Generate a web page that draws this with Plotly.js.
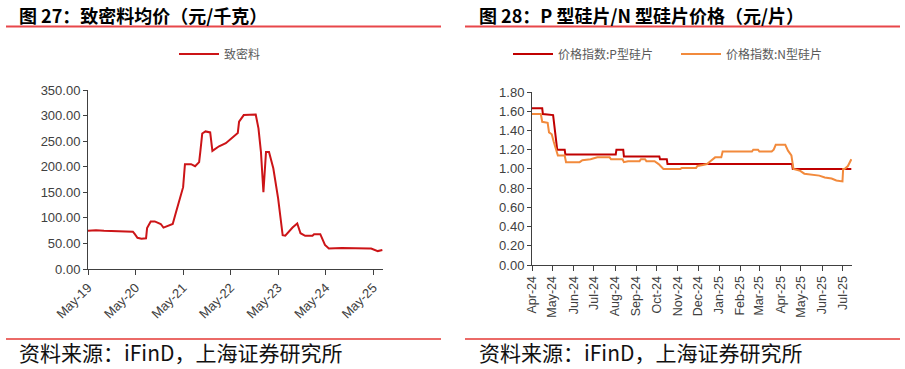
<!DOCTYPE html>
<html>
<head>
<meta charset="utf-8">
<script src="https://cdn.plot.ly/plotly-3.0.1.min.js"></script>
<style>
html,body{margin:0;padding:0;background:#fff;}
#chart{width:905px;height:369px;}
</style>
</head>
<body>
<div id="chart"></div>
<script>
// ---------- Chart 27: 致密料均价（元/千克） ----------
const denseDates = ['2019-05-01','2019-07-01','2019-09-01','2020-01-01','2020-04-10','2020-04-25','2020-05-15','2020-06-15','2020-07-20','2020-07-28','2020-08-25','2020-09-25','2020-10-25','2020-11-10','2020-12-01','2020-12-25','2021-01-25','2021-02-10','2021-03-05','2021-04-05','2021-05-01','2021-05-15','2021-07-01','2021-08-01','2021-09-01','2021-09-10','2021-09-25','2021-10-20','2021-11-25','2021-12-12','2022-01-05','2022-02-01','2022-03-25','2022-05-20','2022-06-25','2022-07-05','2022-08-10','2022-11-10','2022-12-01','2022-12-20','2023-01-08','2023-01-28','2023-02-20','2023-03-25','2023-05-01','2023-06-05','2023-06-25','2023-08-20','2023-09-25','2023-10-20','2023-11-25','2024-01-20','2024-02-01','2024-03-20','2024-04-25','2024-05-25','2024-09-01','2025-04-01','2025-04-15','2025-06-05','2025-07-10'];
const densePrice = [75,76,75,74,73,68,61,59,60,80,93,93,89,88,81,83,87,88,109,138,160,205,205,201,209,229,265,269,267,231,235,240,246,258,266,288,301,302,275,229,150,229,229,197,138,66,65,81,89,70,65,65,68,68,47,40,41,40,40,35,37];
const denseName = '致密料';

// ---------- Chart 28: P型硅片/N型硅片价格（元/片） ----------
const pDates = ['2024-04-01','2024-04-16','2024-04-17','2024-04-30','2024-05-02','2024-05-05','2024-05-08','2024-05-19','2024-05-20','2024-08-02','2024-08-03','2024-08-13','2024-08-14','2024-10-05','2024-10-06','2024-10-16','2024-10-17','2025-04-18','2025-04-19','2025-07-14'];
const pPrice = [1.63,1.63,1.57,1.56,1.56,1.38,1.20,1.20,1.15,1.15,1.20,1.20,1.13,1.13,1.10,1.10,1.05,1.05,1.00,1.00];
const pName = '价格指数:P型硅片';

const nDates = ['2024-04-01','2024-04-14','2024-04-16','2024-04-24','2024-04-26','2024-04-30','2024-05-03','2024-05-06','2024-05-09','2024-05-19','2024-05-21','2024-06-10','2024-06-14','2024-06-26','2024-07-06','2024-07-24','2024-07-26','2024-08-12','2024-08-14','2024-08-20','2024-09-06','2024-09-08','2024-09-14','2024-09-16','2024-09-28','2024-10-04','2024-10-11','2024-11-05','2024-11-07','2024-11-28','2024-11-30','2024-12-08','2024-12-14','2024-12-19','2024-12-26','2025-01-04','2025-01-06','2025-02-18','2025-02-20','2025-02-27','2025-03-01','2025-03-19','2025-03-22','2025-03-25','2025-04-08','2025-04-12','2025-04-17','2025-04-20','2025-04-30','2025-05-06','2025-05-28','2025-06-05','2025-06-15','2025-06-22','2025-07-01','2025-07-02','2025-07-04','2025-07-09','2025-07-14'];
const nPrice = [1.57,1.57,1.49,1.48,1.38,1.36,1.28,1.21,1.14,1.14,1.07,1.07,1.09,1.10,1.12,1.12,1.10,1.10,1.07,1.08,1.08,1.10,1.10,1.08,1.08,1.05,1.00,1.00,1.01,1.01,1.03,1.04,1.05,1.08,1.12,1.12,1.18,1.18,1.20,1.20,1.18,1.18,1.20,1.25,1.25,1.19,1.14,1.00,0.98,0.95,0.93,0.91,0.90,0.88,0.87,1.00,1.00,1.03,1.10];
const nName = '价格指数:N型硅片';

const title1 = '图 27：致密料均价（元/千克）';
const title2 = '图 28：P 型硅片/N 型硅片价格（元/片）';
const sourceText = '资料来源：iFinD，上海证券研究所';

const W = 905, H = 369;
const px = v => v / W;
const py = v => 1 - v / H;

const tickFont = {family: 'Liberation Sans, Arial, sans-serif', size: 13, color: '#404040'};
const cjk = 'Noto Sans CJK SC, sans-serif';

const traces = [
  {x: denseDates, y: densePrice, name: denseName, type: 'scatter', mode: 'lines',
   line: {color: '#CC1417', width: 2}, xaxis: 'x', yaxis: 'y', legend: 'legend'},
  {x: pDates, y: pPrice, name: pName, type: 'scatter', mode: 'lines',
   line: {color: '#C00000', width: 2}, xaxis: 'x2', yaxis: 'y2', legend: 'legend2'},
  {x: nDates, y: nPrice, name: nName, type: 'scatter', mode: 'lines',
   line: {color: '#F28A3C', width: 2}, xaxis: 'x2', yaxis: 'y2', legend: 'legend2'}
];

const axisCommon = {showgrid: false, zeroline: false, showline: true, linecolor: '#404040', linewidth: 1,
  ticks: 'outside', ticklen: 4, tickcolor: '#404040', tickfont: tickFont, automargin: false};

const layout = {
  width: W, height: H,
  margin: {l: 0, r: 0, t: 0, b: 0, autoexpand: false},
  paper_bgcolor: '#fff', plot_bgcolor: '#fff',
  showlegend: true,
  xaxis: Object.assign({}, axisCommon, {
    domain: [px(88), px(383)], anchor: 'y', type: 'date',
    range: ['2019-05-01', '2025-07-15'],
    tick0: '2019-05-01', dtick: 'M12', tickformat: '%b-%y', tickangle: -45, ticklen: 5
  }),
  yaxis: Object.assign({}, axisCommon, {
    domain: [py(269), py(90)], anchor: 'x', range: [0, 350], dtick: 50, tickformat: '.2f'
  }),
  xaxis2: Object.assign({}, axisCommon, {
    domain: [px(532), px(852)], anchor: 'y2', type: 'date',
    range: ['2024-04-01', '2025-07-15'],
    tick0: '2024-04-01', dtick: 'M1', tickformat: '%b-%y', tickangle: -90, ticklen: 5,
    tickfont: {family: 'Liberation Sans, Arial, sans-serif', size: 12.5, color: '#404040'}
  }),
  yaxis2: Object.assign({}, axisCommon, {
    domain: [py(265), py(92)], anchor: 'x2', range: [0, 1.8], dtick: 0.2, tickformat: '.2f'
  }),
  legend: {orientation: 'h', x: px(220), xanchor: 'center', y: py(54), yanchor: 'middle',
    font: {family: cjk, size: 12, color: '#595959'}, bgcolor: 'rgba(0,0,0,0)', itemwidth: 40},
  legend2: {orientation: 'h', x: px(508), xanchor: 'left', y: py(54), yanchor: 'middle',
    font: {family: cjk, size: 12, color: '#595959'}, bgcolor: 'rgba(0,0,0,0)', itemwidth: 40,
    entrywidth: 113, entrywidthmode: 'pixels'},
  shapes: [
    {type: 'line', xref: 'paper', yref: 'paper', x0: px(6), x1: px(441), y0: py(26.5), y1: py(26.5), line: {color: '#E8474A', width: 2}},
    {type: 'line', xref: 'paper', yref: 'paper', x0: px(465), x1: px(900), y0: py(26.5), y1: py(26.5), line: {color: '#E8474A', width: 2}},
    {type: 'line', xref: 'paper', yref: 'paper', x0: px(6), x1: px(441), y0: py(339), y1: py(339), line: {color: '#E53935', width: 1.5}},
    {type: 'line', xref: 'paper', yref: 'paper', x0: px(465), x1: px(900), y0: py(339), y1: py(339), line: {color: '#E53935', width: 1.5}}
  ],
  annotations: [
    {text: '<b>' + title1 + '</b>', xref: 'paper', yref: 'paper', x: px(17), y: py(15), xanchor: 'left', yanchor: 'middle', showarrow: false,
     font: {family: cjk, size: 18, color: '#000'}},
    {text: '<b>' + title2 + '</b>', xref: 'paper', yref: 'paper', x: px(477), y: py(15), xanchor: 'left', yanchor: 'middle', showarrow: false,
     font: {family: cjk, size: 18, color: '#000'}},
    {text: sourceText, xref: 'paper', yref: 'paper', x: px(17), y: py(352), xanchor: 'left', yanchor: 'middle', showarrow: false,
     font: {family: cjk, size: 21, color: '#111'}},
    {text: sourceText, xref: 'paper', yref: 'paper', x: px(477), y: py(352), xanchor: 'left', yanchor: 'middle', showarrow: false,
     font: {family: cjk, size: 21, color: '#111'}}
  ]
};

Plotly.newPlot('chart', traces, layout, {displayModeBar: false, staticPlot: true});
</script>
</body>
</html>
